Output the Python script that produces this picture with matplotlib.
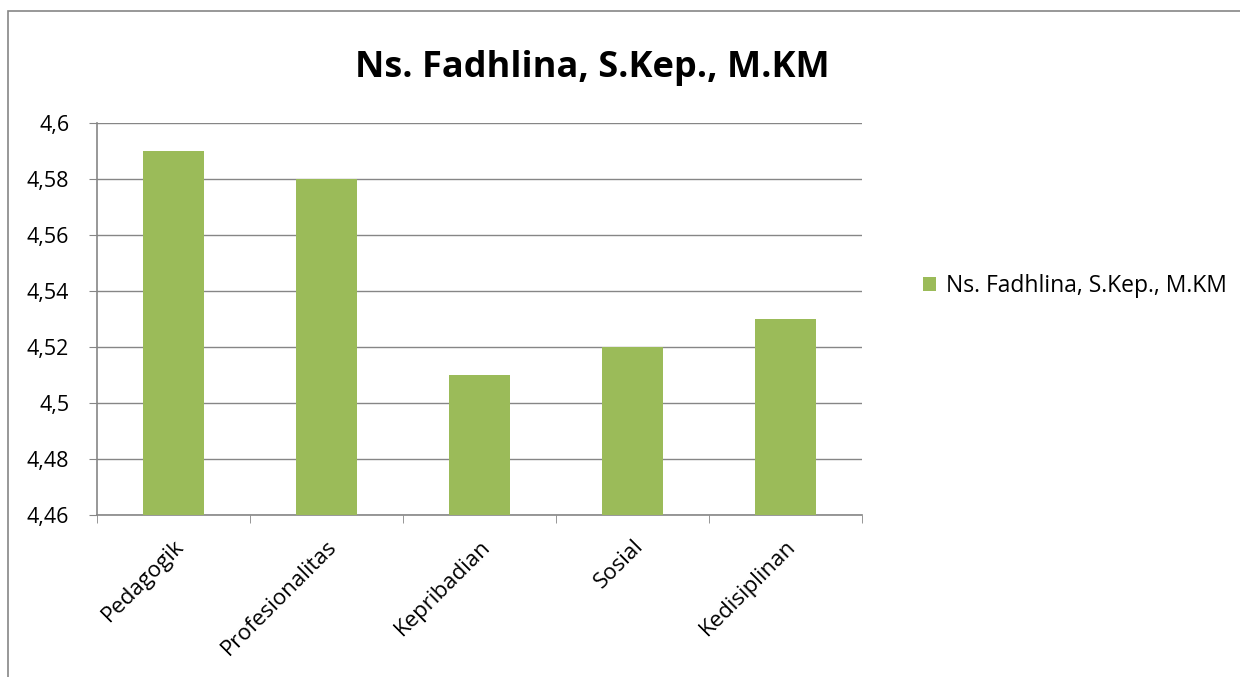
import matplotlib
matplotlib.use("Agg")
import matplotlib.pyplot as plt
from matplotlib.patches import Rectangle
from matplotlib.ticker import FixedLocator

categories = ["Pedagogik", "Profesionalitas", "Kepribadian", "Sosial", "Kedisiplinan"]
values = [4.59, 4.58, 4.51, 4.52, 4.53]
yticks = [4.46, 4.48, 4.50, 4.52, 4.54, 4.56, 4.58, 4.60]
ytick_labels = ["4,46", "4,48", "4,5", "4,52", "4,54", "4,56", "4,58", "4,6"]
series_name = "Ns. Fadhlina, S.Kep., M.KM"

GREEN, GRID = "#9bbb59", "#868686"
plt.rcParams["font.family"] = ["Open Sans", "DejaVu Sans"]

W, H = 1240, 677
fig = plt.figure(figsize=(W / 100, H / 100), dpi=100)
ax = fig.add_axes([97 / W, 1 - 515 / H, (862 - 97) / W, (515 - 123) / H])

x = list(range(len(categories)))
ax.bar(x, values, width=0.4, color=GREEN, label=series_name, zorder=3)
ax.set_xlim(-0.5, len(categories) - 0.5)
ax.set_ylim(4.46, 4.60)
ax.set_yticks(yticks)
ax.set_yticklabels(ytick_labels, fontsize=15.5)
ax.yaxis.grid(True, color=GRID, lw=1, zorder=0)
ax.set_xticks(x)
ax.set_xticklabels(categories, rotation=45, ha="right", rotation_mode="anchor", fontsize=16)
ax.tick_params(axis="x", length=0, pad=15)
ax.xaxis.set_minor_locator(FixedLocator([i - 0.5 for i in range(len(categories) + 1)]))
ax.tick_params(axis="x", which="minor", length=6, color=GRID, direction="out")
ax.tick_params(axis="y", length=6, color=GRID, direction="out", pad=14)
for s in ["top", "right"]:
    ax.spines[s].set_visible(False)
for s in ["left", "bottom"]:
    ax.spines[s].set_color(GRID)
    ax.spines[s].set_linewidth(1.2)

fig.text(592 / W, 1 - 68 / H, series_name, ha="center", va="center",
         fontsize=26, fontweight="bold")

fig.legend(loc="center left", bbox_to_anchor=(902 / W, 1 - 286 / H), frameon=False,
           fontsize=16.5, handlelength=0.6, handleheight=0.6, handletextpad=0.4)

fig.patches.append(Rectangle((8 / W, -0.1), 1.2, 1 - 11 / H + 0.1, transform=fig.transFigure,
                             fill=False, edgecolor=GRID, lw=1.2))

fig.savefig("out.png", dpi=100)
